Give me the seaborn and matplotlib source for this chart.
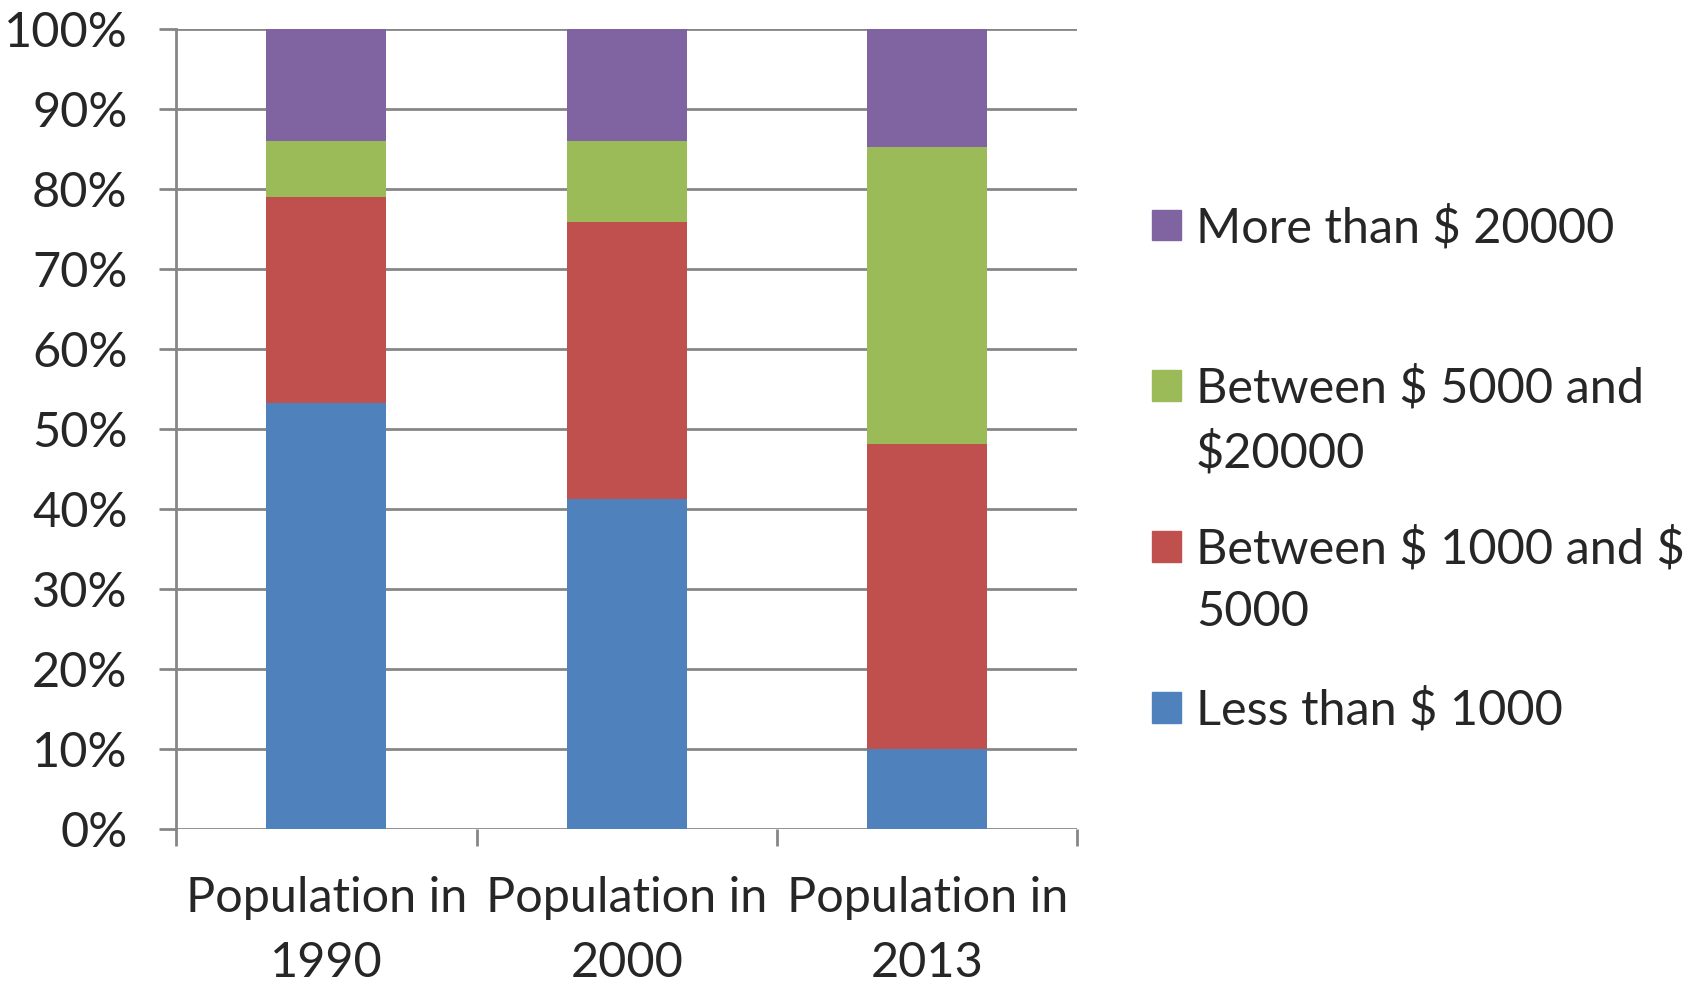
import numpy as np
import pandas as pd
import matplotlib
matplotlib.use("Agg")
import matplotlib.pyplot as plt
import seaborn as sns

# data (percent of population per income band)
categories = ["Population in\n1990", "Population in\n2000", "Population in\n2013"]
less_1000 = [53.2, 41.2, 10.0]
between_1000_5000 = [25.8, 34.6, 38.1]
between_5000_20000 = [7.0, 10.2, 37.1]
more_20000 = [14.0, 14.0, 14.8]

series_names = [r"Less than \$ 1000", r"Between \$ 1000 and \$",
                r"Between \$ 5000 and", r"More than \$ 20000"]
series_extra = ["", "5000", r"\$20000", ""]
colors = ["#4F81BD", "#C0504D", "#9BBB59", "#8064A2"]

sns.set_theme(style="white")
plt.rcParams['font.family'] = ['Lato', 'DejaVu Sans']
FS = 35

fig = plt.figure(figsize=(17.02, 9.84), dpi=100)
ax = fig.add_axes([0.1035, 0.158, 0.5295, 0.813])

# stacked bars: draw cumulative totals from largest to smallest
stack = np.array([less_1000, between_1000_5000, between_5000_20000, more_20000])
cum = np.cumsum(stack, axis=0)
handles = []
for i in range(3, -1, -1):
    df = pd.DataFrame({"cat": categories, "val": cum[i]})
    sns.barplot(data=df, x="cat", y="val", color=colors[i], saturation=1,
                width=0.4, ax=ax, zorder=3, linewidth=0)
    handles.append(plt.Rectangle((0, 0), 1, 1, color=colors[i]))

ax.set_ylim(0, 100)
ax.set_xlim(-0.5, 2.5)
ax.set_yticks(np.arange(0, 101, 10))
ax.set_yticklabels([f"{v}%" for v in range(0, 101, 10)])
ax.yaxis.grid(True, color="#868686", linewidth=2, zorder=0)
ax.set_axisbelow(True)
ax.set_xlabel("")
ax.set_ylabel("")

for s in ["top", "right", "bottom"]:
    ax.spines[s].set_visible(False)
ax.spines["left"].set_color("#868686")
ax.spines["left"].set_linewidth(2)

ax.tick_params(axis="y", length=12, width=2, color="#868686", pad=23,
               labelsize=FS, left=True)
ax.set_xticks([0, 1, 2])
ax.set_xticklabels(categories, linespacing=1.6)
ax.set_xticks([-0.5, 0.5, 1.5, 2.5], minor=True)
ax.tick_params(axis="x", which="major", length=0, labelsize=FS, pad=34)
ax.tick_params(axis="x", which="minor", length=12, width=2, color="#868686",
               bottom=True)

leg = fig.legend(handles, series_names[::-1], loc="upper left",
                 bbox_to_anchor=(0.677, 0.792), frameon=False, fontsize=FS,
                 handlelength=0.6, handleheight=0.6, handletextpad=0.30,
                 labelspacing=2.37, borderpad=0, borderaxespad=0)

# second lines of the wrapped legend labels
fig.canvas.draw()
renderer = fig.canvas.get_renderer()
for txt, extra in zip(leg.get_texts(), series_extra[::-1]):
    if not extra:
        continue
    bb = txt.get_window_extent(renderer).transformed(fig.transFigure.inverted())
    fig.text(bb.x0, bb.y0 - 0.019, extra, fontsize=FS, va="top", ha="left")

fig.savefig("out.png", dpi=100)
